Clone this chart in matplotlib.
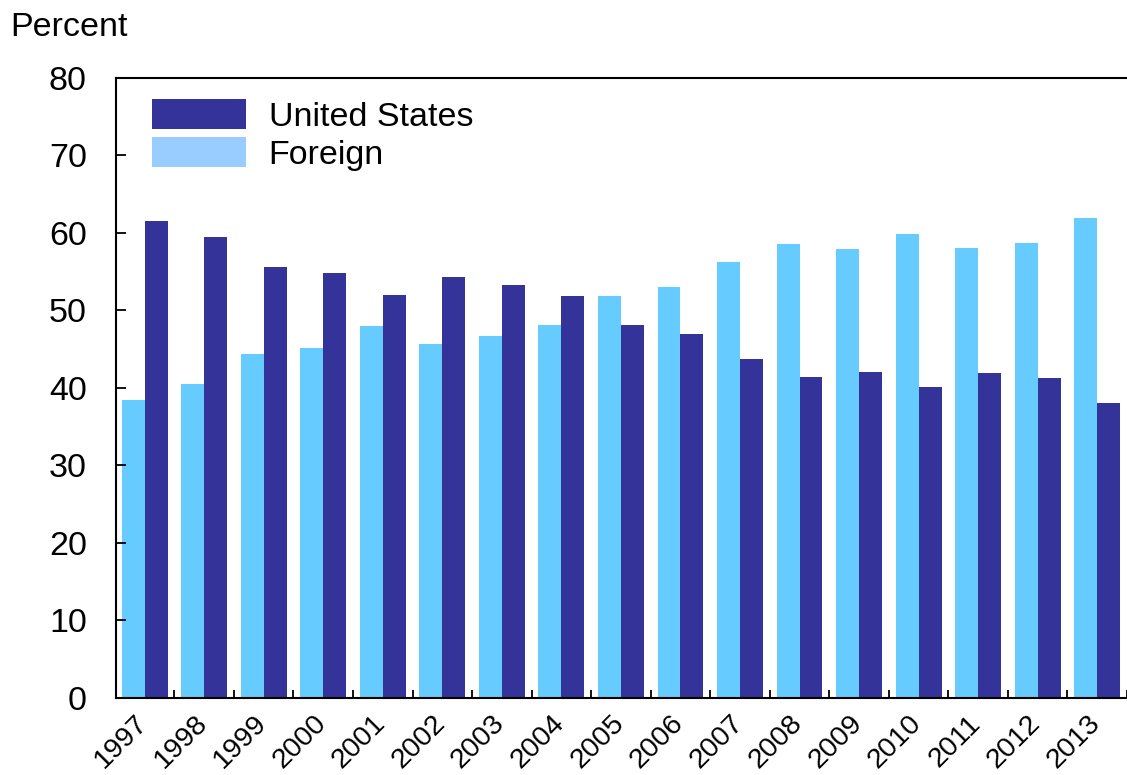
import matplotlib
matplotlib.use("Agg")
import matplotlib.pyplot as plt
from matplotlib.patches import Patch
import numpy as np

# data (percent)
years = ["1997", "1998", "1999", "2000", "2001", "2002", "2003", "2004", "2005",
         "2006", "2007", "2008", "2009", "2010", "2011", "2012", "2013"]
united_states = [61.5, 59.5, 55.6, 54.8, 52.0, 54.3, 53.3, 51.9, 48.1,
                 47.0, 43.7, 41.4, 42.1, 40.1, 41.9, 41.3, 38.1]
foreign = [38.5, 40.5, 44.4, 45.2, 48.0, 45.7, 46.7, 48.1, 51.9,
           53.0, 56.3, 58.6, 57.9, 59.9, 58.1, 58.7, 61.9]

US_COLOR = "#333399"
FOREIGN_COLOR = "#66CCFF"
FOREIGN_LEGEND = "#99CCFF"

plt.rcParams["font.family"] = ["Liberation Sans", "DejaVu Sans"]

fig = plt.figure(figsize=(11.27, 7.75), dpi=100)
ax = fig.add_axes([0.103, 0.0994, 0.897, 0.80])

x = np.arange(len(years))
w = 0.385
ax.bar(x - w / 2, foreign, width=w, color=FOREIGN_COLOR, edgecolor="none")
ax.bar(x + w / 2, united_states, width=w, color=US_COLOR, edgecolor="none")

ax.set_xlim(-0.48, 16.40)
ax.set_ylim(0, 80)
ax.set_yticks(range(0, 81, 10))
ax.tick_params(axis="y", direction="in", length=7, width=1.3, labelsize=24.5, pad=21)

# year labels under groups, ticks between groups
ax.set_xticks(x + 0.5)
ax.set_xticklabels([])
ax.tick_params(axis="x", direction="in", length=6, width=1.3)
ax.set_xticks(x - 0.17, minor=True)
ax.set_xticklabels(years, minor=True, rotation=45, ha="right", va="top",
                   rotation_mode="anchor", fontsize=20.5)
ax.tick_params(axis="x", which="minor", length=0, pad=9)

for side in ["left", "bottom", "top"]:
    ax.spines[side].set_linewidth(1.5)
ax.spines["right"].set_visible(False)

handles = [Patch(facecolor=US_COLOR, label="United States"),
           Patch(facecolor=FOREIGN_LEGEND, label="Foreign")]
ax.legend(handles=handles, loc="upper left", bbox_to_anchor=(0.036, 0.966),
          frameon=False, fontsize=24.5, handlelength=2.76, handleheight=1.0,
          labelspacing=0.12, handletextpad=0.65, borderpad=0, borderaxespad=0)

fig.text(0.009, 0.985, "Percent", fontsize=24.5, ha="left", va="top")

fig.savefig("out.png", dpi=100)
